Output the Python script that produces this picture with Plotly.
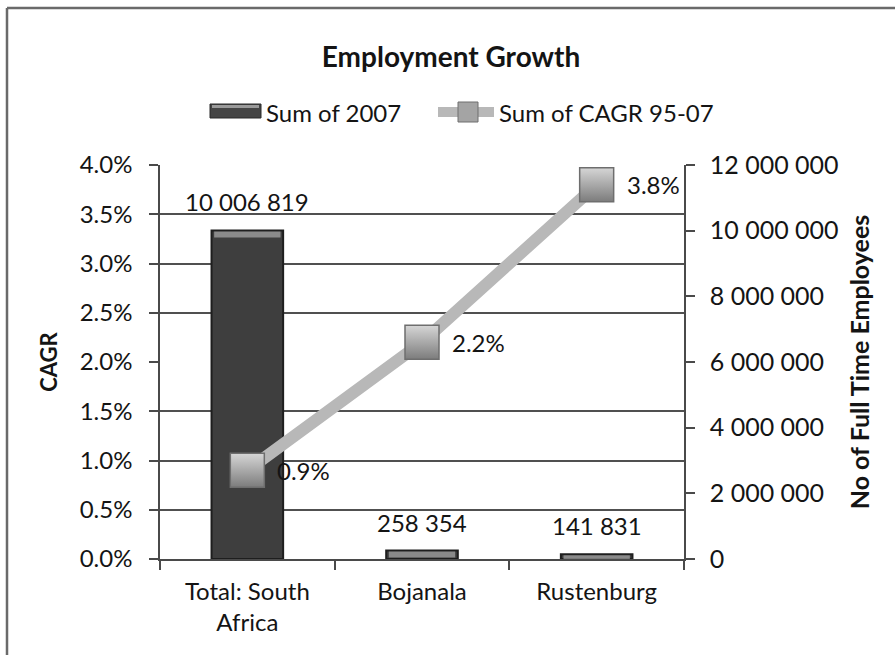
import plotly.graph_objects as go

# Employment data
categories = ["Total: South<br>Africa", "Bojanala", "Rustenburg"]
employees_2007 = [10006819, 258354, 141831]
cagr_95_07 = [0.009, 0.022, 0.038]

W, H = 895, 655
L, R, T, B = 160, 211, 165, 96
PW, PH = W - L - R, H - T - B
FONT = "Lato"
TXT = "#141414"


def px(xpix):
    return (xpix - L) / PW


def py(ypix):
    return (H - B - ypix) / PH


fig = go.Figure()

# Employee counts as bars on the right-hand axis
fig.add_trace(go.Bar(
    x=categories, y=employees_2007, name="Sum of 2007",
    width=0.41,
    marker=dict(color="#3e3e3e", line=dict(color="#1e1e1e", width=2)),
    yaxis="y", showlegend=False,
))

# Growth rate line on the left-hand axis
fig.add_trace(go.Scatter(
    x=categories, y=cagr_95_07, name="Sum of CAGR 95-07",
    mode="lines+markers",
    line=dict(color="#b8b8b8", width=12),
    marker=dict(symbol="square", size=34, color="#d6d6d6",
                gradient=dict(type="vertical", color="#7c7c7c"),
                line=dict(color="#6e6e6e", width=1.5)),
    yaxis="y2", showlegend=False,
))

annotations = []
shapes = []

# Value labels above each bar, and a light bevel along each bar's top
for i, (c, v) in enumerate(zip(categories, employees_2007)):
    annotations.append(dict(
        x=c, y=v, xref="x", yref="y", text=f"{v:,}".replace(",", " "),
        showarrow=False, yanchor="bottom", yshift=12,
        font=dict(family=FONT, size=24, color=TXT)))
    shapes.append(dict(
        type="rect", xref="x", yref="y", ysizemode="pixel", yanchor=v,
        x0=i - 0.19, x1=i + 0.19, y0=-1, y1=-7,
        fillcolor="rgba(200,200,200,0.55)", line=dict(width=0), layer="above"))

# Percentage labels to the right of each marker
for c, v in zip(categories, cagr_95_07):
    annotations.append(dict(
        x=c, y=v, xref="x", yref="y2", text=f"{v * 100:.1f}%",
        showarrow=False, xanchor="left", xshift=28,
        font=dict(family=FONT, size=24, color=TXT)))

# Legend drawn by hand
shapes += [
    dict(type="rect", xref="paper", yref="paper",
         x0=px(210), x1=px(261), y0=py(118), y1=py(104),
         fillcolor="#454545", line=dict(color="#2a2a2a", width=1)),
    dict(type="rect", xref="paper", yref="paper",
         x0=px(212), x1=px(259), y0=py(108), y1=py(105),
         fillcolor="#9a9a9a", line=dict(width=0)),
    dict(type="line", xref="paper", yref="paper",
         x0=px(438), x1=px(494), y0=py(112), y1=py(112),
         line=dict(color="#b8b8b8", width=10)),
    dict(type="rect", xref="paper", yref="paper",
         x0=px(458), x1=px(478), y0=py(122), y1=py(102),
         fillcolor="#a4a4a4", line=dict(color="#6e6e6e", width=1)),
]
annotations += [
    dict(x=px(264), y=py(112), xref="paper", yref="paper", text="Sum of 2007",
         showarrow=False, xanchor="left", yanchor="middle",
         font=dict(family=FONT, size=24, color=TXT)),
    dict(x=px(497), y=py(112), xref="paper", yref="paper", text="Sum of CAGR 95-07",
         showarrow=False, xanchor="left", yanchor="middle",
         font=dict(family=FONT, size=24, color=TXT)),
]

# Outer chart frame (left and top edges)
shapes += [
    dict(type="line", xref="paper", yref="paper",
         x0=px(7), x1=px(7), y0=py(8), y1=py(700),
         line=dict(color="#6a6a6a", width=2.5)),
    dict(type="line", xref="paper", yref="paper",
         x0=px(7), x1=px(960), y0=py(8), y1=py(8),
         line=dict(color="#6a6a6a", width=2.5)),
]

axis_col = "#4a4a4a"

fig.update_layout(
    width=W, height=H,
    margin=dict(l=L, r=R, t=T, b=B),
    paper_bgcolor="white", plot_bgcolor="white",
    separators=". ",
    font=dict(family=FONT, size=24, color=TXT),
    title=dict(text="<b>Employment Growth</b>", x=451 / W, xanchor="center",
               y=1 - 57 / H, yref="container", yanchor="middle",
               font=dict(family=FONT, size=28, color=TXT)),
    bargap=0.59,
    xaxis=dict(
        type="category", tickson="boundaries", ticks="outside", ticklen=9,
        tickwidth=1.5, tickcolor=axis_col, showline=True, linecolor=axis_col,
        linewidth=1.5, showgrid=False, ticklabelstandoff=10,
        tickfont=dict(family=FONT, size=24, color=TXT),
    ),
    yaxis=dict(
        side="right", range=[0, 12000000], dtick=2000000, tickformat=",d",
        ticks="outside", ticklen=9, tickwidth=1.5, tickcolor=axis_col,
        showline=True, linecolor=axis_col, linewidth=1.5,
        showgrid=False, zeroline=False, ticklabelstandoff=10,
        minor=dict(dtick=1500000, showgrid=True, gridcolor="#505050",
                   gridwidth=1.5, ticks=""),
        title=dict(text="<b>No of Full Time Employees</b>", standoff=14,
                   font=dict(family=FONT, size=25, color=TXT)),
        tickfont=dict(family=FONT, size=25, color=TXT),
    ),
    yaxis2=dict(
        overlaying="y", side="left", range=[0, 0.04], dtick=0.005,
        tickformat=".1%", ticks="outside", ticklen=9, tickwidth=1.5,
        tickcolor=axis_col, showline=True, linecolor=axis_col, linewidth=1.5,
        showgrid=False, zeroline=False, ticklabelstandoff=12,
        title=dict(text="<b>CAGR</b>", standoff=16,
                   font=dict(family=FONT, size=22, color=TXT)),
        tickfont=dict(family=FONT, size=24, color=TXT),
    ),
    annotations=annotations,
    shapes=shapes,
)

fig.write_html("out.html")
